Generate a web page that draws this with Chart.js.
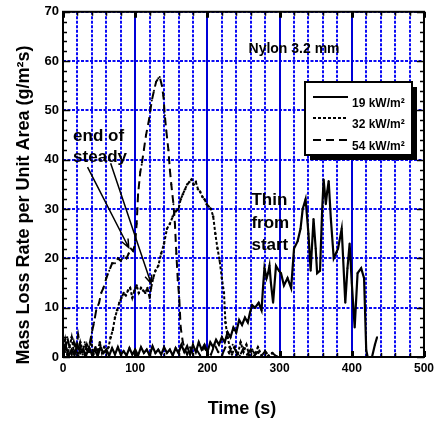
<!DOCTYPE html>
<html>
<head>
<meta charset="utf-8">
<script src="https://cdn.jsdelivr.net/npm/chart.js@4/dist/chart.umd.min.js"></script>
<style>
  html, body { margin: 0; padding: 0; background: #fff; }
  #wrap { width: 438px; height: 422px; }
</style>
</head>
<body>
<div id="wrap"><canvas id="mlr-chart" width="438" height="422"></canvas></div>
<script>
const mlrCanvas = document.getElementById("mlr-chart")

// data

const xTicks = [0, 100, 200, 300, 400, 500]
const yTicks = [0, 10, 20, 30, 40, 50, 60, 70]
const seriesLabels = ["19 kW/m\u00b2", "32 kW/m\u00b2", "54 kW/m\u00b2"]

const t19 = [0, 4, 8, 12, 16, 20, 24, 28, 32, 36, 40, 44, 48, 52, 56, 60, 64, 68, 72, 76, 80, 84, 88, 92, 96, 100,
  104, 108, 112, 116, 120, 124, 128, 132, 136, 140, 144, 148, 152, 156, 160, 164, 168, 172, 176, 180, 184, 188,
  192, 196, 200, 204, 208, 212, 216, 220, 224, 228, 232, 236, 240, 244, 248, 252, 256, 259, 262, 266, 271, 275,
  277, 279, 282, 284, 286, 288, 291, 295, 299, 302, 306, 311, 316, 320, 325, 329, 332, 336, 340, 343, 347, 350,
  352, 356, 359, 361, 364, 366, 368, 371, 375, 378, 381, 386, 388, 391, 394, 397, 400, 404, 408, 413, 417, 420,
  422, 425, 428, 432, 435]
const mlr19 = [0.5, 2, 0.3, 1.5, 0.5, 2.5, 0.8, 1.5, 0.3, 2, 0.5, 1.5, 0.2, 2, 0.8, 1.5, 0.3, 1.8, 0.5, 2, 0.5, 1.2, 0.3, 1.8, 0.5, 1.5,
  0.3, 2, 0.8, 1.5, 0.3, 2.2, 0.8, 1.5, 0.5, 2, 0.8, 1.5, 0.3, 1.8, 0.8, 2.5, 1, 2.2, 0.5, 2.5, 1, 3,
  1.5, 2.5, 1, 3, 2, 3.5, 2.5, 4, 3, 5, 4, 6, 5, 7.5, 6.5, 8, 7, 9, 10.5, 10, 11, 9.5,
  14, 18, 16, 17, 18.5, 15, 11, 18.5, 17.5, 17, 14.5, 16, 14, 22, 23.5, 26, 30, 32, 25, 17.5, 28, 22,
  17, 17.5, 30, 36, 31, 33.6, 35.7, 28, 20, 21, 22, 26, 20, 11, 18, 23, 15, 6, 17, 18, 16, 1.4,
  0, null, 0, 2.5, 4]

const t32 = [0, 3, 6, 9, 12, 15, 18, 21, 24, 27, 30, 33, 36, 39, 42, 45, 48, 51, 54, 57, 60, 63, 66, 69, 72, 75, 78,
  81, 84, 87, 90, 93, 96, 99, 102, 105, 108, 111, 114, 117, 120, 122, 125, 128, 132, 136, 140, 144, 148, 152, 156,
  160, 163, 166, 169, 172, 175, 178, 181, 184, 187, 190, 193, 196, 199, 202, 205, 208, 211, 214, 217, 220, 223,
  225, 228, 231, 234, 238, 242, 246, 250, 254, 258, 262, 266, 270, 275, 280, 285, 290]
const mlr32 = [1, 3.5, 0.5, 2, 4, 1, 2.5, 0.3, 3, 1.5, 0.5, 2.5, 1, 3.5, 0.5, 2, 1, 3, 0.8, 2, 1, 2, 4, 5.5, 8, 9.5, 11,
  12, 13, 12.5, 13.5, 14, 12, 13.5, 14.5, 13, 14, 13.5, 13, 14, 12, 14, 16, 17.5, 18.5, 21, 23, 26, 27, 28.5, 29.5,
  30, 32, 33, 34, 35, 35.5, 36, 35, 35.5, 34, 33.5, 32.5, 32, 31, 30.5, 30, 28.5, 25, 22, 19.5, 16, 13,
  7, 4, 2, 0.5, 2, 0.5, 3, 1, 2.5, 0.3, 1.5, 0.5, 2, 0.3, 1, 0.2, 0.8]

const t54 = [0, 3, 6, 9, 12, 15, 18, 21, 24, 27, 30, 33, 36, 40, 43, 46, 50, 53, 56, 60, 64, 68, 72, 76, 80, 84, 88,
  91, 94, 97, 100, 102, 104, 107, 109, 112, 115, 119, 123, 126, 129, 132, 134, 137, 139, 141, 143, 146, 148, 150,
  153, 155, 157, 159, 161, 163, 166, 169, 172, 176, 180, 185, 190, 195, 200, 205, 210, 215, 220, 225, 230, 235,
  240, 245, 250, 255, 260, 265, 270, 275, 280, 285, 290, 295, 300]
const mlr54 = [3, 1, 4, 2, 0.5, 3, 1, 4.5, 2, 0.5, 3, 1.5, 2, 5, 7, 9.5, 11, 13, 14, 16, 17.5, 19, 19, 20, 19.5, 20.5, 20,
  21, 22, 21.5, 23, 27, 33, 37.5, 39, 42, 45, 48, 52, 54, 55.8, 56.5, 56.8, 55, 53, 49, 46, 42, 38, 35,
  31, 27, 21, 15.5, 12, 6, 3, 1.5, 0.5, 2, 0.5, 1.5, 0.3, 2, 1, 0.5, 2.5, 1, 0.3, 2, 0.8, 2.5,
  1, 0.3, 1.8, 0.5, 1.5, 0.3, 1, 0.2, 1.2, 0.3, 0.8, 0.2, 0]

const toPoints = (ts, vs) => ts.map((t, i) => ({ x: t, y: vs[i] }))

const FONT = "'Liberation Sans', Arial, Helvetica, sans-serif"
const BLUE = "#0a0af5"

// grid, frame, notes and legend

const plotFrame = {
  id: "plotFrame",
  beforeDatasetsDraw(chart) {
    const { ctx, chartArea: a, scales: { x, y } } = chart
    ctx.save()
    ctx.strokeStyle = BLUE
    ctx.lineWidth = 2
    ctx.setLineDash([3, 1.5])
    for (let v = 20; v < 500; v += 20) {
      if (v % 100 === 0) continue
      const px = Math.round(x.getPixelForValue(v))
      ctx.beginPath()
      ctx.moveTo(px, a.top)
      ctx.lineTo(px, a.bottom)
      ctx.stroke()
    }
    for (let v = 0; v <= 70; v += 10) {
      const py = Math.round(y.getPixelForValue(v))
      ctx.beginPath()
      ctx.moveTo(a.left, py)
      ctx.lineTo(a.right, py)
      ctx.stroke()
    }
    ctx.setLineDash([])
    ctx.strokeStyle = "#0000d8"
    ctx.lineWidth = 2
    for (let v = 100; v < 500; v += 100) {
      const px = Math.round(x.getPixelForValue(v))
      ctx.beginPath()
      ctx.moveTo(px, a.top)
      ctx.lineTo(px, a.bottom)
      ctx.stroke()
    }
    ctx.restore()
  },
  afterDatasetsDraw(chart) {
    const { ctx, chartArea: a, scales: { x, y } } = chart
    ctx.save()
    ctx.strokeStyle = "#000"
    ctx.fillStyle = "#000"

    // ticks
    ctx.lineWidth = 1.5
    for (let v = 0; v <= 70; v += 2) {
      const py = Math.round(y.getPixelForValue(v)) + 0.5
      const len = v % 10 === 0 ? 7 : 4
      ctx.beginPath()
      ctx.moveTo(a.left, py); ctx.lineTo(a.left + len, py)
      ctx.moveTo(a.right, py); ctx.lineTo(a.right - len, py)
      ctx.stroke()
    }
    for (let v = 0; v <= 500; v += 20) {
      const px = Math.round(x.getPixelForValue(v)) + 0.5
      const len = v % 100 === 0 ? 6 : 4
      ctx.lineWidth = v % 100 === 0 ? 3 : 1.5
      ctx.beginPath()
      ctx.moveTo(px, a.bottom); ctx.lineTo(px, a.bottom - len)
      ctx.moveTo(px, a.top); ctx.lineTo(px, a.top + len)
      ctx.stroke()
    }

    // frame
    ctx.lineWidth = 2
    ctx.strokeRect(a.left, a.top, a.right - a.left, a.bottom - a.top)

    // notes
    ctx.font = "bold 14px " + FONT
    ctx.textAlign = "center"
    ctx.textBaseline = "alphabetic"
    ctx.fillText("Nylon 3.2 mm", x.getPixelForValue(320), y.getPixelForValue(61.6))

    ctx.font = "bold 17px " + FONT
    ctx.textAlign = "left"
    ctx.fillText("end of", x.getPixelForValue(14), y.getPixelForValue(43.7))
    ctx.fillText("steady", x.getPixelForValue(14), y.getPixelForValue(39.6))
    ctx.fillText("Thin", x.getPixelForValue(261), y.getPixelForValue(30.8))
    ctx.fillText("from", x.getPixelForValue(261), y.getPixelForValue(26.2))
    ctx.fillText("start", x.getPixelForValue(261), y.getPixelForValue(21.6))

    const arrow = (x0, y0, x1, y1) => {
      const ax = x.getPixelForValue(x0), ay = y.getPixelForValue(y0)
      const bx = x.getPixelForValue(x1), by = y.getPixelForValue(y1)
      const ang = Math.atan2(by - ay, bx - ax)
      ctx.lineWidth = 1.5
      ctx.beginPath()
      ctx.moveTo(ax, ay); ctx.lineTo(bx, by)
      ctx.moveTo(bx - 9 * Math.cos(ang - 0.4), by - 9 * Math.sin(ang - 0.4))
      ctx.lineTo(bx, by)
      ctx.lineTo(bx - 9 * Math.cos(ang + 0.4), by - 9 * Math.sin(ang + 0.4))
      ctx.stroke()
    }
    arrow(34, 38.5, 91, 22.2)
    arrow(66, 39.3, 122, 14.9)

    // legend box with shadow
    const lx = 305, ly = 82, lw = 107, lh = 73
    ctx.fillRect(lx + 5, ly + 5, lw, lh)
    ctx.fillStyle = "#fff"
    ctx.fillRect(lx, ly, lw, lh)
    ctx.lineWidth = 2
    ctx.strokeRect(lx, ly, lw, lh)
    ctx.fillStyle = "#000"
    ctx.font = "bold 12px " + FONT
    const rowY = [97, 118, 140]
    chart.data.datasets.forEach((ds, i) => {
      ctx.setLineDash(ds.borderDash || [])
      ctx.lineWidth = 2
      ctx.beginPath()
      ctx.moveTo(lx + 8, rowY[i]); ctx.lineTo(lx + 43, rowY[i])
      ctx.stroke()
      ctx.setLineDash([])
      ctx.fillText(ds.label, lx + 47, rowY[i] + 10)
    })

    // axis titles
    ctx.font = "bold 18px " + FONT
    ctx.textAlign = "center"
    ctx.fillText("Time (s)", 242, 414)
    ctx.translate(29, 205)
    ctx.rotate(-Math.PI / 2)
    ctx.fillText("Mass Loss Rate per Unit Area (g/m\u00b2s)", 0, 0)
    ctx.restore()
  },
}

const mlrData = {
  datasets: [
    {
      label: seriesLabels[0],
      data: toPoints(t19, mlr19),
      borderColor: "#000",
      borderWidth: 2.2,
      pointRadius: 1,
      pointBackgroundColor: "#000",
      pointBorderWidth: 0,
    },
    {
      label: seriesLabels[1],
      data: toPoints(t32, mlr32),
      borderColor: "#000",
      borderWidth: 2,
      borderDash: [3, 2],
      pointRadius: 1.2,
      pointBackgroundColor: "#000",
      pointBorderWidth: 0,
    },
    {
      label: seriesLabels[2],
      data: toPoints(t54, mlr54),
      borderColor: "#000",
      borderWidth: 2,
      borderDash: [8, 5],
      pointRadius: 1,
      pointBackgroundColor: "#000",
      pointBorderWidth: 0,
    },
  ],
}

const mlrOptions = {
  responsive: false,
  animation: false,
  spanGaps: false,
  layout: { padding: { left: 0, top: 10, right: 8, bottom: 0 } },
  scales: {
    x: {
      type: "linear",
      min: 0,
      max: 500,
      afterBuildTicks: (scale) => { scale.ticks = xTicks.map((v) => ({ value: v })) },
      afterFit: (scale) => { scale.height = 65 },
      grid: { display: false, drawTicks: false },
      border: { display: false },
      ticks: { color: "#000", font: { family: FONT, size: 12, weight: "bold" }, padding: 4, maxRotation: 0 },
    },
    y: {
      type: "linear",
      min: 0,
      max: 70,
      afterBuildTicks: (scale) => { scale.ticks = yTicks.map((v) => ({ value: v })) },
      afterFit: (scale) => { scale.width = 63 },
      grid: { display: false, drawTicks: false },
      border: { display: false },
      ticks: { color: "#000", font: { family: FONT, size: 13, weight: "bold" }, padding: 4 },
    },
  },
  plugins: {
    legend: { display: false },
    tooltip: { enabled: false },
  },
}

let mlrChart = new Chart(mlrCanvas, {
  type: "line",
  data: mlrData,
  options: mlrOptions,
  plugins: [plotFrame],
})
</script>
</body>
</html>
